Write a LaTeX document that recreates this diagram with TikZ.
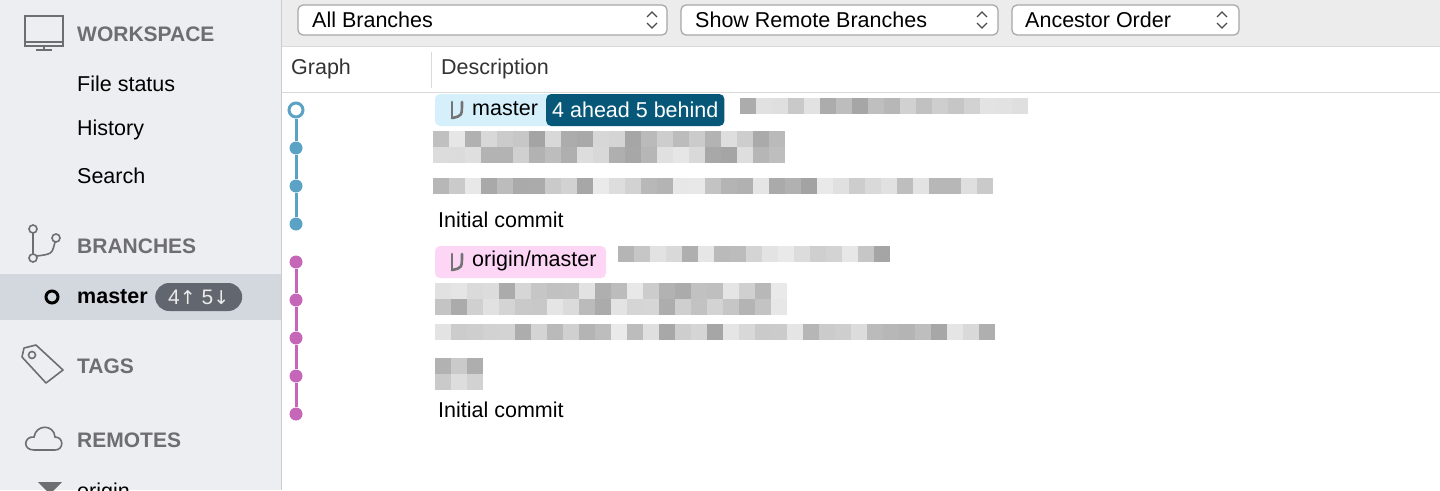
\documentclass[tikz,border=0pt]{standalone}
\usepackage{fontspec}
\setmainfont{Liberation Sans}
\newfontfamily\symfont{DejaVu Sans}
\usetikzlibrary{positioning}
\definecolor{sidebg}{HTML}{EDEEF1}
\definecolor{selbg}{HTML}{D3D7DE}
\definecolor{headgray}{HTML}{6E6E70}
\definecolor{toolbg}{HTML}{ECECEC}
\definecolor{bluegraph}{HTML}{5BA3C4}
\definecolor{pinkgraph}{HTML}{C666B8}
\definecolor{chipblue}{HTML}{D5F0FB}
\definecolor{chipdark}{HTML}{075878}
\definecolor{chippink}{HTML}{FDD6F5}
\definecolor{badge}{HTML}{62666E}

\tikzset{
  sidehead/.style={anchor=west,text=headgray,font=\fontsize{21}{23}\selectfont\bfseries,inner sep=0},
  sideitem/.style={anchor=west,font=\fontsize{21.5}{23}\selectfont,inner sep=0},
  combo/.style={draw=black!35,fill=white,rounded corners=5pt,line width=1.2pt},
  combotext/.style={anchor=west,font=\fontsize{21.5}{23}\selectfont,inner sep=0},
  rowtext/.style={anchor=west,font=\fontsize{21.5}{23}\selectfont,inner sep=0},
  icon/.style={draw=headgray,line width=1.6pt},
  bdot/.style={circle,fill=bluegraph,inner sep=0,minimum size=13pt},
  pdot/.style={circle,fill=pinkgraph,inner sep=0,minimum size=13pt}
}
% pixelated blur: x, y, columns, rows
\newcommand{\blurblock}[4]{%
  \foreach \c in {1,...,#3}
    \foreach \r in {1,...,#4}{
      \pgfmathsetmacro{\shade}{8+rnd*28}
      \fill[black!\shade] ({#1+(\c-1)*16},{#2+(\r-1)*16}) rectangle ++(16,16);
    }}
% combo chevrons at right edge
\newcommand{\chev}[2]{%
  \draw[black!70,line width=1.2pt] (#1-5,#2-3) -- (#1,#2-8) -- (#1+5,#2-3);
  \draw[black!70,line width=1.2pt] (#1-5,#2+3) -- (#1,#2+8) -- (#1+5,#2+3);}
% small branch glyph in a chip
\newcommand{\chipicon}[2]{%
  \draw[black!55,line width=2.6pt,line cap=round] (#1,#2-8) -- (#1,#2+8);
  \draw[black!55,line width=2.6pt,line cap=round] (#1,#2+8) .. controls (#1+10,#2+6) .. (#1+10,#2-8);}

\begin{document}
\begin{tikzpicture}[x=1pt,y=-1pt]
  \useasboundingbox (0,0) rectangle (1440,490);
  \pgfmathsetseed{7}
  % panels
  \fill[sidebg] (0,0) rectangle (281,490);
  \fill[selbg] (0,274) rectangle (281,320);
  \fill[white] (282,0) rectangle (1440,490);
  \fill[toolbg] (282,0) rectangle (1440,46);
  \draw[black!20,line width=1.5pt] (281.5,0) -- (281.5,490);
  \draw[black!15] (282,46.5) -- (1440,46.5);
  \draw[black!15] (282,92.5) -- (1440,92.5);
  \draw[black!15] (431.5,52) -- (431.5,88);

  % sidebar
  \draw[icon] (25,16) rectangle (63,46);
  \draw[icon] (25,42) -- (63,42);
  \draw[icon] (36,50) -- (52,50);
  \draw[icon] (44,46) -- (44,50);
  \node[sidehead] (ws) at (77,34) {WORKSPACE};
  \node[sideitem] (fs) at (77,84) {File status};
  \node[sideitem] (hi) at (77,130) {History};
  \node[sideitem] (se) at (77,176) {Search};
  \draw[icon] (33,229) circle (4) (33,258) circle (4) (56,238) circle (4);
  \draw[icon] (33,233) -- (33,254);
  \draw[icon] (37,256) .. controls (52,254) .. (55,242);
  \node[sidehead] (br) at (77,246) {BRANCHES};
  \draw[black,line width=3pt] (52,297) circle (6);
  \node[sideitem,font=\fontsize{21.5}{23}\selectfont\bfseries] (ms) at (77,297) {master};
  \node[fill=badge,text=black!8,rounded corners=14pt,minimum height=28pt,minimum width=87pt,
        inner sep=0,font=\fontsize{21}{23}\selectfont,anchor=west] (bd) at (155,297)
        {4{\symfont\fontsize{19}{22}\selectfont↑} 5{\symfont\fontsize{19}{22}\selectfont↓}};
  \draw[icon,line join=round] (24,348) -- (36,345) -- (63,370) -- (46,383) -- (22,357) -- cycle;
  \draw[icon] (32,355) circle (3.5);
  \node[sidehead] (tg) at (77,366) {TAGS};
  \draw[icon] (34,450) .. controls (22,450) and (24,436) .. (34,437)
     .. controls (36,424) and (54,424) .. (55,437)
     .. controls (64,437) and (64,450) .. (55,450) -- cycle;
  \node[sidehead] (rm) at (77,440) {REMOTES};
  \fill[headgray] (38,482) -- (62,482) -- (50,494) -- cycle;
  \node[sideitem] (or) at (77,493) {origin};

  % toolbar combos
  \draw[combo] (298,5) rectangle (667,35); \chev{652}{20}
  \node[combotext] (ab) at (312,20) {All Branches};
  \draw[combo] (681,5) rectangle (998,35); \chev{982}{20}
  \node[combotext] (sr) at (695,20) {Show Remote Branches};
  \draw[combo] (1012,5) rectangle (1239,35); \chev{1222}{20}
  \node[combotext] (ao) at (1025,20) {Ancestor Order};

  % column headers
  \node[rowtext,text=black!80] (gh) at (291,69) {Graph};
  \node[rowtext,text=black!80] (dh) at (441,69) {Description};

  % graph
  \node[circle,draw=bluegraph,line width=3pt,fill=white,inner sep=0,minimum size=14pt] (b0) at (296,110) {};
  \node[bdot] (b1) at (296,148) {};
  \node[bdot] (b2) at (296,186) {};
  \node[bdot] (b3) at (296,224) {};
  \foreach \a/\b in {b0/b1,b1/b2,b2/b3}
    \draw[bluegraph,line width=3pt] (\a) -- (\b);
  \node[pdot] (p0) at (296,262) {};
  \node[pdot] (p1) at (296,300) {};
  \node[pdot] (p2) at (296,338) {};
  \node[pdot] (p3) at (296,376) {};
  \node[pdot] (p4) at (296,414) {};
  \foreach \a/\b in {p0/p1,p1/p2,p2/p3,p3/p4}
    \draw[pinkgraph,line width=3pt] (\a) -- (\b);

  % descriptions
  \fill[chipblue,rounded corners=5pt] (435,94) rectangle (560,126);
  \chipicon{452}{110}
  \node[rowtext] (cm) at (472,109) {master};
  \node[fill=chipdark,text=white,rounded corners=5pt,inner xsep=6pt,minimum height=32pt,
        anchor=west,font=\fontsize{21.5}{23}\selectfont] (ah) at (546,110) {4 ahead 5 behind};
  \blurblock{740}{98}{18}{1}
  \blurblock{433}{131}{22}{2}
  \blurblock{433}{178}{35}{1}
  \node[rowtext] (ic1) at (438,220) {Initial commit};
  \fill[chippink,rounded corners=5pt] (435,246) rectangle (606,278);
  \chipicon{452}{262}
  \node[rowtext] (co) at (472,261) {origin/master};
  \blurblock{618}{246}{17}{1}
  \blurblock{435}{283}{22}{2}
  \blurblock{435}{324}{35}{1}
  \blurblock{435}{358}{3}{2}
  \node[rowtext] (ic2) at (438,410) {Initial commit};
\end{tikzpicture}
\end{document}
